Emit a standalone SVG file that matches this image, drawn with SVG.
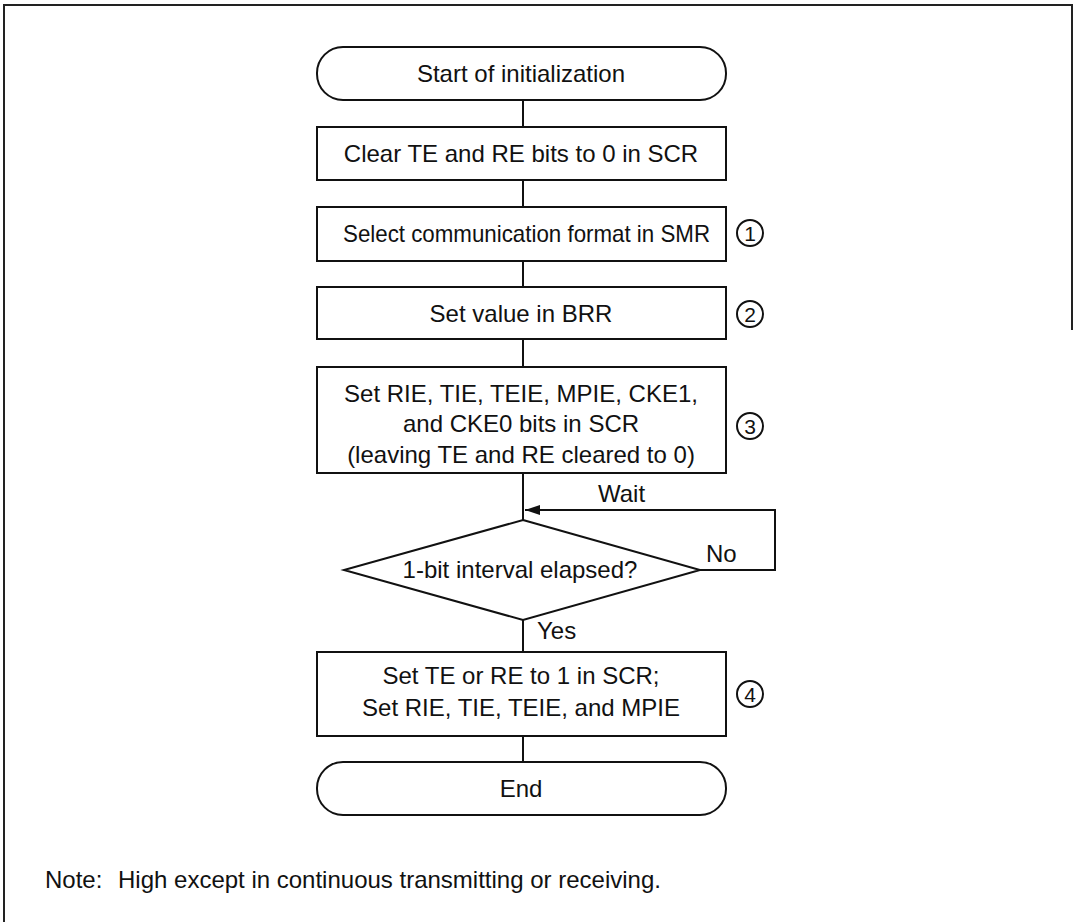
<svg xmlns="http://www.w3.org/2000/svg" width="1074" height="922" viewBox="0 0 1074 922">
<style>
.s{fill:#fff;stroke:#111;stroke-width:2}
.t{font-family:"Liberation Sans",Arial,sans-serif;font-size:24px;fill:#111;text-anchor:middle}
.l{font-family:"Liberation Sans",Arial,sans-serif;font-size:24px;fill:#111}
.c{fill:none;stroke:#111;stroke-width:2}
.n{font-family:"Liberation Sans",Arial,sans-serif;font-size:21px;fill:#111;text-anchor:middle}
</style>
<defs>
<marker id="ah" markerWidth="16" markerHeight="12" refX="15" refY="6" orient="auto" markerUnits="userSpaceOnUse">
<path d="M0,1 L15,6 L0,11 Z" fill="#111"/>
</marker>
</defs>
<rect width="1074" height="922" fill="#fff"/>
<path d="M4,922 L4,5 L1072,5 L1072,330" fill="none" stroke="#222" stroke-width="2"/>
<g id="connectors">
<path class="c" d="M523,100 V127 M523,180 V207 M523,261 V287 M523,339 V367 M523,473 V520 M523,620 V652 M523,736 V762"/>
<path class="c" d="M700,570 H775 V510 H525" marker-end="url(#ah)"/>
<text class="l" x="598" y="502">Wait</text>
<text class="l" x="706" y="562">No</text>
<text class="l" x="537" y="639">Yes</text>
</g>
<g id="start">
<rect class="s" x="317" y="47" width="409" height="53" rx="26" ry="26"/>
<text class="t" x="521" y="82">Start of initialization</text>
</g>
<g id="clear">
<rect class="s" x="317" y="127" width="409" height="53"/>
<text class="t" x="521" y="162">Clear TE and RE bits to 0 in SCR</text>
</g>
<g id="smr">
<rect class="s" x="317" y="207" width="409" height="54"/>
<text class="t" x="526.5" y="242" textLength="367" lengthAdjust="spacingAndGlyphs">Select communication format in SMR</text>
<circle class="c" cx="750" cy="233" r="13"/>
<text class="n" x="750" y="240.5">1</text>
</g>
<g id="brr">
<rect class="s" x="317" y="287" width="409" height="52"/>
<text class="t" x="521" y="322">Set value in BRR</text>
<circle class="c" cx="750" cy="314" r="13"/>
<text class="n" x="750" y="321.5">2</text>
</g>
<g id="scr">
<rect class="s" x="317" y="367" width="409" height="106"/>
<text class="t" x="521" y="402">Set RIE, TIE, TEIE, MPIE, CKE1,</text>
<text class="t" x="521" y="432">and CKE0 bits in SCR</text>
<text class="t" x="521" y="463">(leaving TE and RE cleared to 0)</text>
<circle class="c" cx="750" cy="426" r="13"/>
<text class="n" x="750" y="433.5">3</text>
</g>
<g id="decision">
<polygon class="s" points="523,520 700,570 523,620 344,570"/>
<text class="t" x="520" y="578">1-bit interval elapsed?</text>
</g>
<g id="enable">
<rect class="s" x="317" y="652" width="409" height="84"/>
<text class="t" x="521" y="684">Set TE or RE to 1 in SCR;</text>
<text class="t" x="521" y="716">Set RIE, TIE, TEIE, and MPIE</text>
<circle class="c" cx="750" cy="694" r="13"/>
<text class="n" x="750" y="701.5">4</text>
</g>
<g id="end">
<rect class="s" x="317" y="762" width="409" height="53" rx="26" ry="26"/>
<text class="t" x="521" y="797">End</text>
</g>
<g id="note">
<text class="l" x="45" y="888">Note:</text>
<text class="l" x="118" y="888">High except in continuous transmitting or receiving.</text>
</g>
</svg>
